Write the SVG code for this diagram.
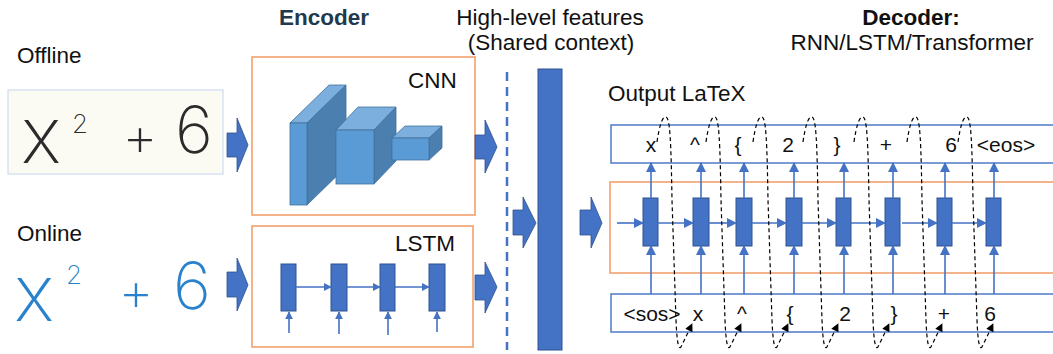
<svg xmlns="http://www.w3.org/2000/svg" width="1053" height="354" viewBox="0 0 1053 354">
<defs>
<style>
.lbl{font-family:"Liberation Sans",Arial,sans-serif;font-size:22.5px;fill:#111}
.bold{font-weight:bold}
.tok{font-family:"Liberation Sans",Arial,sans-serif;font-size:21px;fill:#111;text-anchor:middle}
.hw{font-family:Inter,"Open Sans","DejaVu Sans",sans-serif;font-weight:150;text-anchor:middle}
.orange{fill:#fff;stroke:#f2a06c;stroke-width:1.6}
.bluebox{fill:#fff;stroke:#4f7ac7;stroke-width:1.5}
.cell{fill:#4472c4;stroke:#2f528f;stroke-width:1}
.blk{fill:#4472c4;stroke:#2f528f;stroke-width:0.8}
.ln{stroke:#4472c4;stroke-width:1.6;fill:none}
.loop{stroke:#000;stroke-width:1.2;fill:none;stroke-dasharray:4 3}
.front{fill:#5b9bd5;stroke:#41719c;stroke-width:0.8}
.top{fill:#7cafdd;stroke:#41719c;stroke-width:0.8}
.side{fill:#4a7fb0;stroke:#41719c;stroke-width:0.8}
</style>
<marker id="ah" viewBox="0 0 10 10" refX="9" refY="5" markerWidth="10" markerHeight="10" markerUnits="userSpaceOnUse" orient="auto">
<path d="M0,0 L10,5 L0,10 Z" fill="#4472c4"/>
</marker>
<marker id="ahs" viewBox="0 0 10 10" refX="9" refY="5" markerWidth="8" markerHeight="8" markerUnits="userSpaceOnUse" orient="auto">
<path d="M0,0 L10,5 L0,10 Z" fill="#4472c4"/>
</marker>
<marker id="bk" viewBox="0 0 10 10" refX="9" refY="5" markerWidth="9" markerHeight="8" markerUnits="userSpaceOnUse" orient="auto">
<path d="M0,0 L10,5 L0,10 Z" fill="#000"/>
</marker>
</defs>
<rect width="1053" height="354" fill="#fff"/>

<g id="titles">
<text class="lbl bold" x="324" y="25" text-anchor="middle" style="fill:#1f3a4c">Encoder</text>
<text class="lbl" x="550" y="25" text-anchor="middle">High-level features</text>
<text class="lbl" x="551" y="50" text-anchor="middle">(Shared context)</text>
<text class="lbl bold" x="911" y="25" text-anchor="middle">Decoder:</text>
<text class="lbl" x="912" y="50" text-anchor="middle">RNN/LSTM/Transformer</text>
</g>

<g id="offline-input">
<text class="lbl" x="17" y="63">Offline</text>
<rect x="8" y="90" width="215" height="84" fill="#fcfbf3" stroke="#c5d6ef" stroke-width="1"/>
<g class="hw" fill="#2b2b2b">
<text x="41" y="163" font-size="78">x</text>
<text x="80" y="133" font-size="26">2</text>
<text x="140" y="156" font-size="55">+</text>
<text x="194" y="153" font-size="65">6</text>
</g>
</g>

<g id="online-input">
<text class="lbl" x="17" y="241">Online</text>
<g class="hw" fill="#2a82cc">
<text x="34" y="321" font-size="78">x</text>
<text x="74" y="284" font-size="26">2</text>
<text x="136" y="311" font-size="55">+</text>
<text x="192" y="309" font-size="65">6</text>
</g>
</g>

<g id="cnn-encoder">
<rect class="orange" x="252" y="57" width="223" height="158"/>
<text class="lbl" x="408" y="88">CNN</text>
<polygon class="top" points="290,123 307,123 346,85 329,85"/>
<polygon class="side" points="307,123 346,85 346,167 307,205"/>
<rect class="front" x="290" y="123" width="17" height="82"/>
<polygon class="top" points="336,130 374,130 396,107 358,107"/>
<polygon class="side" points="374,130 396,107 396,161 374,184"/>
<rect class="front" x="336" y="130" width="38" height="54"/>
<polygon class="top" points="392,138 429,138 442,126 405,126"/>
<polygon class="side" points="429,138 442,126 442,148 429,160"/>
<rect class="front" x="392" y="138" width="37" height="22"/>
</g>

<g id="lstm-encoder">
<rect class="orange" x="252" y="226" width="221" height="121"/>
<text class="lbl" x="395" y="251">LSTM</text>
<rect class="cell" x="281" y="264" width="15" height="47"/>
<rect class="cell" x="331" y="264" width="16" height="47"/>
<rect class="cell" x="380" y="264" width="15" height="47"/>
<rect class="cell" x="429" y="264" width="16" height="47"/>
</g>

<g id="shared-context">
<line x1="507" y1="72" x2="507" y2="350" stroke="#4472c4" stroke-width="2.5" stroke-dasharray="9 6"/>
<rect class="cell" x="538" y="69" width="24" height="281"/>
</g>

<g id="decoder">
<text class="lbl" x="608" y="101">Output LaTeX</text>
<rect class="bluebox" x="611" y="125" width="470" height="38"/>
<rect class="orange" x="610" y="182" width="470" height="91"/>
<rect class="bluebox" x="611" y="294" width="470" height="38"/>
<rect class="cell" x="643" y="198" width="15" height="48"/>
<rect class="cell" x="693" y="198" width="16" height="48"/>
<rect class="cell" x="736" y="198" width="16" height="48"/>
<rect class="cell" x="786" y="198" width="16" height="48"/>
<rect class="cell" x="836" y="198" width="15" height="48"/>
<rect class="cell" x="885" y="198" width="15" height="48"/>
<rect class="cell" x="937" y="198" width="15" height="48"/>
<rect class="cell" x="986" y="198" width="15" height="48"/>
<g id="output-tokens">
<text class="tok" x="651" y="152">x</text>
<text class="tok" x="695" y="152">^</text>
<text class="tok" x="738" y="152">{</text>
<text class="tok" x="788" y="152">2</text>
<text class="tok" x="837" y="152">}</text>
<text class="tok" x="886" y="152">+</text>
<text class="tok" x="951" y="152">6</text>
<text class="tok" x="1006" y="152">&lt;eos&gt;</text>
</g>
<g id="input-tokens">
<text class="tok" x="652" y="321">&lt;sos&gt;</text>
<text class="tok" x="698" y="321">x</text>
<text class="tok" x="742" y="321">^</text>
<text class="tok" x="790" y="321">{</text>
<text class="tok" x="845" y="321">2</text>
<text class="tok" x="894" y="321">}</text>
<text class="tok" x="944" y="321">+</text>
<text class="tok" x="990" y="321">6</text>
</g>
</g>

<g id="connectors">
<g id="block-arrows" class="blk">
<polygon points="227,133 237,133 237,118 248,145 237,172 237,157 227,157"/>
<polygon points="475,135 485,135 485,120 497,147 485,173 485,159 475,159"/>
<polygon points="227,272 237,272 237,258 248,285 237,311 237,297 227,297"/>
<polygon points="475,275 485,275 485,262 497,287 485,313 485,300 475,300"/>
<polygon points="513,210 523,210 523,197 536,223 523,248 523,235 513,235"/>
<polygon points="580,210 591,210 591,197 602,223 591,248 591,235 580,235"/>
</g>
<g id="lstm-arrows" class="ln">
<line x1="296" y1="287" x2="331" y2="287" marker-end="url(#ahs)"/>
<line x1="347" y1="287" x2="380" y2="287" marker-end="url(#ahs)"/>
<line x1="395" y1="287" x2="429" y2="287" marker-end="url(#ahs)"/>
<line x1="289" y1="333" x2="289" y2="312" marker-end="url(#ahs)"/>
<line x1="339" y1="334" x2="339" y2="312" marker-end="url(#ahs)"/>
<line x1="388" y1="335" x2="388" y2="312" marker-end="url(#ahs)"/>
<line x1="437" y1="332" x2="437" y2="312" marker-end="url(#ahs)"/>
</g>
<g id="decoder-arrows" class="ln">
<line x1="617" y1="223" x2="643" y2="223" marker-end="url(#ah)"/>
<line x1="658" y1="223" x2="693" y2="223" marker-end="url(#ah)"/>
<line x1="709" y1="223" x2="736" y2="223" marker-end="url(#ah)"/>
<line x1="752" y1="223" x2="786" y2="223" marker-end="url(#ah)"/>
<line x1="802" y1="223" x2="836" y2="223" marker-end="url(#ah)"/>
<line x1="851" y1="223" x2="885" y2="223" marker-end="url(#ah)"/>
<line x1="902" y1="223" x2="937" y2="223" marker-end="url(#ah)"/>
<line x1="952" y1="223" x2="986" y2="223" marker-end="url(#ah)"/>
<line x1="651" y1="198" x2="651" y2="163" marker-end="url(#ah)"/>
<line x1="701" y1="198" x2="701" y2="163" marker-end="url(#ah)"/>
<line x1="744" y1="198" x2="744" y2="163" marker-end="url(#ah)"/>
<line x1="794" y1="198" x2="794" y2="163" marker-end="url(#ah)"/>
<line x1="844" y1="198" x2="844" y2="163" marker-end="url(#ah)"/>
<line x1="893" y1="198" x2="893" y2="163" marker-end="url(#ah)"/>
<line x1="945" y1="198" x2="945" y2="163" marker-end="url(#ah)"/>
<line x1="994" y1="198" x2="994" y2="163" marker-end="url(#ah)"/>
<line x1="651" y1="294" x2="651" y2="246" marker-end="url(#ah)"/>
<line x1="701" y1="294" x2="701" y2="246" marker-end="url(#ah)"/>
<line x1="744" y1="294" x2="744" y2="246" marker-end="url(#ah)"/>
<line x1="794" y1="294" x2="794" y2="246" marker-end="url(#ah)"/>
<line x1="844" y1="294" x2="844" y2="246" marker-end="url(#ah)"/>
<line x1="893" y1="294" x2="893" y2="246" marker-end="url(#ah)"/>
<line x1="945" y1="294" x2="945" y2="246" marker-end="url(#ah)"/>
<line x1="994" y1="294" x2="994" y2="246" marker-end="url(#ah)"/>
</g>
<g id="feedback-loops" class="loop">
<path d="M657,142 C659,128 662,116 666,117 C670,118 671,140 672,200 L676,320 C677,345 679,352 682,345 L692,324" marker-end="url(#bk)"/>
<path d="M706,142 C708,128 711,116 715,117 C719,118 720,140 721,200 L725,320 C726,345 728,352 731,345 L741,324" marker-end="url(#bk)"/>
<path d="M753,142 C755,128 758,116 762,117 C766,118 767,140 768,200 L772,320 C773,345 775,352 778,345 L788,324" marker-end="url(#bk)"/>
<path d="M803,142 C805,128 808,116 812,117 C816,118 817,140 818,200 L822,320 C823,345 825,352 828,345 L838,324" marker-end="url(#bk)"/>
<path d="M854,142 C856,128 859,116 863,117 C867,118 868,140 869,200 L873,320 C874,345 876,352 879,345 L889,324" marker-end="url(#bk)"/>
<path d="M907,142 C909,128 912,116 916,117 C920,118 921,140 922,200 L926,320 C927,345 929,352 932,345 L942,324" marker-end="url(#bk)"/>
<path d="M958,142 C960,128 963,116 967,117 C971,118 972,140 973,200 L977,320 C978,345 980,352 983,345 L993,324" marker-end="url(#bk)"/>
</g>
</g>
</svg>
